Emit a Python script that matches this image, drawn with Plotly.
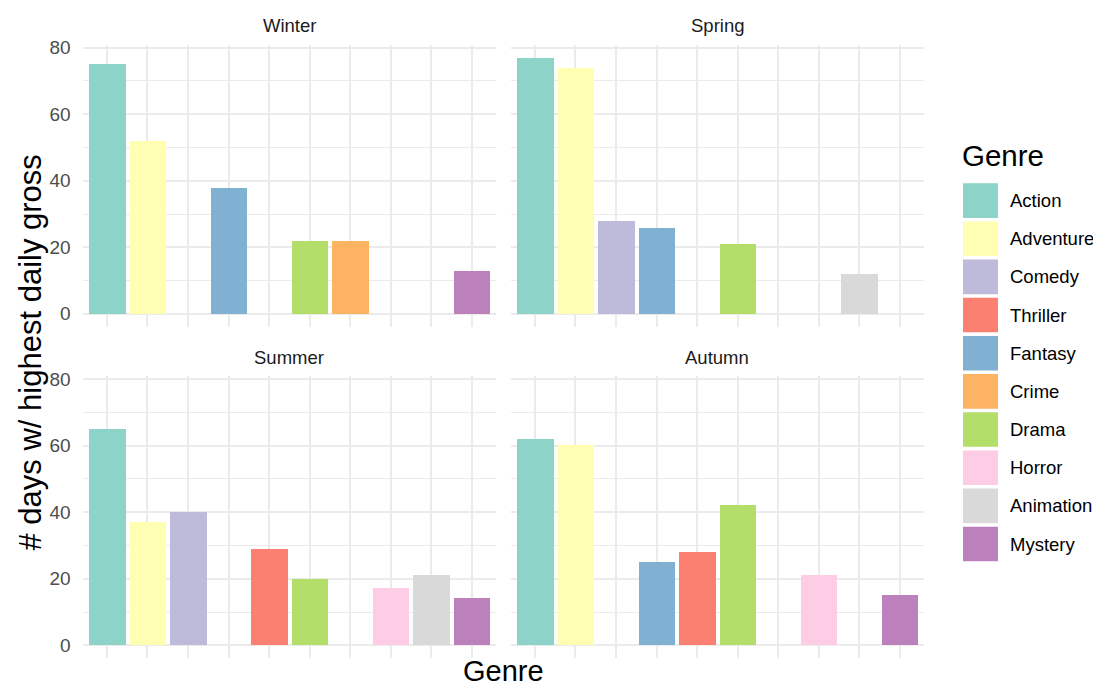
import plotly.graph_objects as go

# ---- data ----
legend_genres = ["Action", "Adventure", "Comedy", "Thriller", "Fantasy",
                 "Crime", "Drama", "Horror", "Animation", "Mystery"]
x_order = ["Action", "Adventure", "Comedy", "Fantasy", "Thriller",
           "Drama", "Crime", "Horror", "Animation", "Mystery"]
genre_colors = ["#8DD3C7", "#FFFFB3", "#BEBADA", "#FB8072", "#80B1D3",
                "#FDB462", "#B3DE69", "#FCCDE5", "#D9D9D9", "#BC80BD"]

seasons = ["Winter", "Spring", "Summer", "Autumn"]

winter_genres = ["Action", "Adventure", "Fantasy", "Drama", "Crime", "Mystery"]
winter_days = [75, 52, 38, 22, 22, 13]

spring_genres = ["Action", "Adventure", "Comedy", "Fantasy", "Drama", "Animation"]
spring_days = [77, 74, 28, 26, 21, 12]

summer_genres = ["Action", "Adventure", "Comedy", "Thriller", "Drama", "Horror", "Animation", "Mystery"]
summer_days = [65, 37, 40, 29, 20, 17, 21, 14]

autumn_genres = ["Action", "Adventure", "Fantasy", "Thriller", "Drama", "Horror", "Mystery"]
autumn_days = [62, 60, 25, 28, 42, 21, 15]

y_ticks = [0, 20, 40, 60, 80]

season_data = [(winter_genres, winter_days), (spring_genres, spring_days),
               (summer_genres, summer_days), (autumn_genres, autumn_days)]

# ---- layout helpers ----
# page body has an 8px margin, so the figure sits at (8, 8) in the window
OFF = 8
W, H = 1101 - OFF, 687 - OFF
def fx(p):
    return (p - OFF) / W
def fy(p):
    return 1 - (p - OFF) / H

color_of = dict(zip(legend_genres, genre_colors))

x_doms = [[fx(82.6), fx(496)], [fx(510.6), fx(924)]]
y_doms = [[fy(322.9), fy(38.1)], [fy(657.9), fy(373.1)]]

fig = go.Figure()

GRID = "#EBEBEB"
layout = {}
annotations = []
for i, season in enumerate(seasons):
    n = i + 1
    suffix = "" if n == 1 else str(n)
    row, col = divmod(i, 2)
    genres, days = season_data[i]
    for g, v in zip(genres, days):
        fig.add_trace(go.Bar(
            x=[g], y=[v], width=0.9,
            marker=dict(color=color_of[g], line=dict(width=0)),
            xaxis="x" + suffix, yaxis="y" + suffix,
            showlegend=False, name=g,
        ))
    layout["xaxis" + suffix] = dict(
        domain=x_doms[col], anchor="y" + suffix,
        type="category", categoryorder="array", categoryarray=x_order,
        range=[-0.6, len(x_order) - 0.4],
        showgrid=True, gridcolor=GRID, gridwidth=2,
        showticklabels=False, ticks="", zeroline=False, showline=False,
    )
    layout["yaxis" + suffix] = dict(
        domain=y_doms[row], anchor="x" + suffix,
        range=[-3.85, 80.85], tickvals=y_ticks,
        showgrid=True, gridcolor=GRID, gridwidth=2,
        minor=dict(tickvals=[10, 30, 50, 70], showgrid=True, gridcolor=GRID, gridwidth=1, ticks=""),
        showticklabels=(col == 0), ticks="", zeroline=False, showline=False,
        ticklabelstandoff=11,
        tickfont=dict(size=19, color="#4D4D4D"),
    )
    xc = (x_doms[col][0] + x_doms[col][1]) / 2
    annotations.append(dict(
        text=season, x=xc, y=fy(19 if row == 0 else 354),
        xref="paper", yref="paper", showarrow=False,
        xanchor="center", yanchor="middle",
        font=dict(size=18.5, color="#1A1A1A"),
    ))

# axis titles
annotations.append(dict(
    text="# days w/ highest daily gross", x=fx(30), y=fy(349),
    xref="paper", yref="paper", showarrow=False, textangle=-90,
    xanchor="center", yanchor="middle", font=dict(size=31, color="black"),
))
annotations.append(dict(
    text="Genre", x=fx(503), y=fy(671),
    xref="paper", yref="paper", showarrow=False,
    xanchor="center", yanchor="middle", font=dict(size=29, color="black"),
))

# legend (drawn manually to match ggplot key size)
shapes = []
annotations.append(dict(
    text="Genre", x=fx(960), y=fy(150),
    xref="paper", yref="paper", showarrow=False,
    xanchor="left", yanchor="middle", font=dict(size=29.5, color="black"),
))
key_top0, key_step, key_size = 178, 38.56, 35
for k, (g, c) in enumerate(zip(legend_genres, genre_colors)):
    top = key_top0 + k * key_step
    shapes.append(dict(
        type="rect", xref="paper", yref="paper",
        x0=fx(963), x1=fx(963 + key_size), y0=fy(top + key_size), y1=fy(top),
        fillcolor=c, line=dict(width=0),
    ))
    annotations.append(dict(
        text=g, x=fx(1008), y=fy(top + key_size / 2),
        xref="paper", yref="paper", showarrow=False,
        xanchor="left", yanchor="middle", font=dict(size=18.5, color="black"),
    ))

fig.update_layout(
    width=W, height=H,
    margin=dict(l=0, r=0, t=0, b=0),
    paper_bgcolor="white", plot_bgcolor="white",
    barmode="overlay", bargap=0,
    font=dict(family="Liberation Sans, Arial, sans-serif"),
    annotations=annotations, shapes=shapes,
    showlegend=False,
    **layout,
)

fig.write_html("out.html")
